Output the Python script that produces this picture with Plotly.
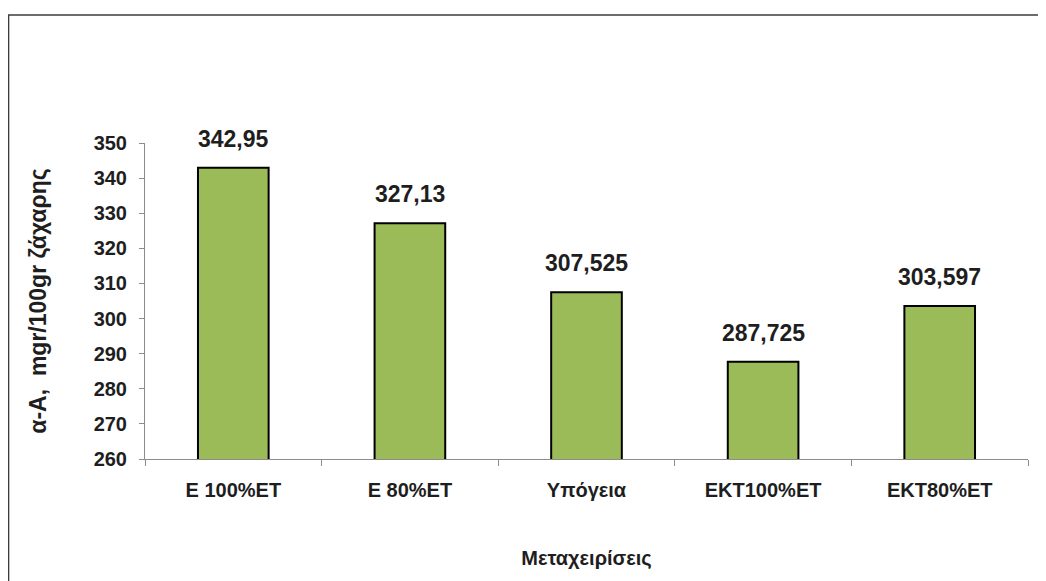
import plotly.graph_objects as go

categories = ['E 100%ET', 'E 80%ET', 'Υπόγεια', 'EKT100%ET', 'EKT80%ET']
values = [342.95, 327.13, 307.525, 287.725, 303.597]
value_labels = ['342,95', '327,13', '307,525', '287,725', '303,597']
y_ticks = [260, 270, 280, 290, 300, 310, 320, 330, 340, 350]

BAR_GREEN = 'rgb(155, 187, 89)'
FONT = 'Liberation Sans, Arial, sans-serif'
TXT = 'rgb(30, 30, 30)'

fig = go.Figure()
fig.add_trace(go.Bar(
    x=categories,
    y=values,
    base=0,
    width=0.4,
    marker=dict(color=BAR_GREEN, line=dict(color='black', width=2)),
    hoverinfo='x+y',
    showlegend=False,
))

# value labels above the bars
for c, v, lab in zip(categories, values, value_labels):
    fig.add_annotation(
        x=c, y=v, text=lab, showarrow=False,
        yanchor='middle', yshift=29,
        font=dict(family=FONT, size=23, color=TXT, weight='bold'),
    )

# outer frame of the original picture (only top and left edges are visible)
fig.add_shape(type='rect', xref='paper', yref='paper',
              x0=-0.1545, x1=1.2, y0=-0.6, y1=1.405,
              line=dict(color='rgb(60,60,60)', width=1.5), layer='below')

fig.update_layout(
    width=1038, height=573,
    margin=dict(l=137, r=18, t=135, b=122),
    paper_bgcolor='white', plot_bgcolor='white',
    bargap=0.6,
    font=dict(family=FONT, color=TXT),
    xaxis=dict(
        type='category', automargin=False,
        tickson='boundaries', ticks='outside', ticklen=6, tickcolor='rgb(140,140,140)',
        showline=True, linecolor='rgb(140,140,140)', linewidth=1,
        showgrid=False,
        tickfont=dict(family=FONT, size=20, color=TXT, weight='bold'),
        ticklabelstandoff=13,
        title=dict(text='Μεταχειρίσεις', standoff=50,
                   font=dict(family=FONT, size=20, color=TXT, weight='bold')),
    ),
    yaxis=dict(
        range=[260, 350], tickvals=y_ticks, automargin=False,
        ticks='outside', ticklen=5, tickcolor='rgb(140,140,140)',
        showline=True, linecolor='rgb(140,140,140)', linewidth=1,
        showgrid=False, zeroline=False,
        tickfont=dict(family=FONT, size=20, color=TXT, weight='bold'),
        ticklabelstandoff=8,
        title=dict(text='α-Α,  mgr/100gr ζάχαρης', standoff=40,
                   font=dict(family=FONT, size=23, color=TXT, weight='bold')),
    ),
)

fig.write_html('out.html')
